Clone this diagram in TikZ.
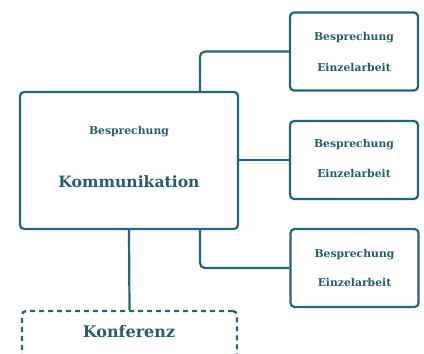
\documentclass[tikz,border=0pt]{standalone}
\usepackage{fontspec}
\setmainfont{DejaVu Serif}
\definecolor{boxc}{RGB}{36,100,124}
\definecolor{txtc}{RGB}{40,92,108}
\begin{document}
\begin{tikzpicture}[x=1pt,y=-1pt,
  box/.style={draw=boxc,line width=2.2pt,rounded corners=4pt,fill=white,inner sep=0pt},
  dbox/.style={draw=boxc,line width=2.2pt,rounded corners=4pt,dash pattern=on 5pt off 4pt,inner sep=0pt},
  conn/.style={draw=boxc,line width=2.2pt,rounded corners=5pt},
  small/.style={text=txtc,font=\fontsize{10.8}{12}\selectfont\bfseries,inner sep=0pt},
  big/.style={text=txtc,font=\fontsize{15.6}{18}\selectfont\bfseries,inner sep=0pt}]
\useasboundingbox (0,0) rectangle (424,354);
\fill[white] (0,0) rectangle (424,354);
\node[box,minimum width=218pt,minimum height=137pt] (main) at (129,160.5) {};
\node[box,minimum width=128pt,minimum height=78pt] (b1) at (354,51.5) {};
\node[box,minimum width=128pt,minimum height=78pt] (b2) at (354,160) {};
\node[box,minimum width=128pt,minimum height=78pt] (b3) at (354.5,268) {};
\node[dbox,minimum width=215pt,minimum height=70pt] (konf) at (129.5,346) {};
\draw[conn] (main.north) ++(71,0) |- (b1.west);
\draw[conn] (main.east |- b2.west) -- (b2.west);
\draw[conn] (main.south) ++(71,0) |- (b3.west);
\draw[conn] (main.south) -- (konf.north);
\node[small] (mt) at (129,132) {Besprechung};
\node[big] (mk) at (129,182) {Kommunikation};
\node[small] (t1a) at (354,38) {Besprechung};
\node[small] (t1b) at (354,67) {Einzelarbeit};
\node[small] (t2a) at (354,145) {Besprechung};
\node[small] (t2b) at (354,173) {Einzelarbeit};
\node[small] (t3a) at (354.5,255) {Besprechung};
\node[small] (t3b) at (354.5,282) {Einzelarbeit};
\node[big,font=\fontsize{16}{18}\selectfont\bfseries] (kt) at (129,332) {Konferenz};
\end{tikzpicture}
\end{document}
